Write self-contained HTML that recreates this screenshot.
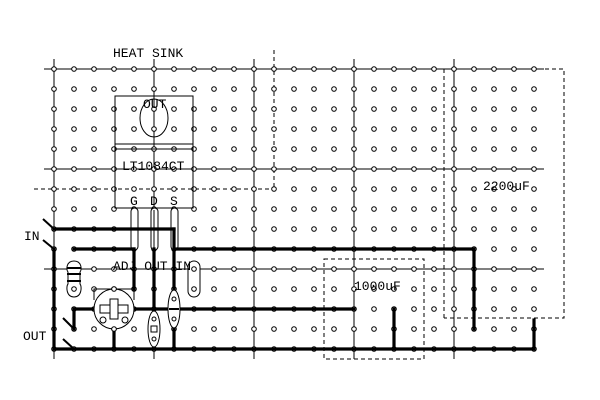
<!DOCTYPE html>
<html><head><meta charset="utf-8"><style>
html,body{margin:0;padding:0;background:#fff}
svg{display:block}
text{font-family:"Liberation Mono",monospace;font-size:13px;fill:#000}
</style></head><body>
<svg width="600" height="400" viewBox="0 0 600 400" xmlns="http://www.w3.org/2000/svg">
<defs>
<pattern id="h" x="44" y="59" width="20" height="20" patternUnits="userSpaceOnUse">
<circle cx="10" cy="10" r="2.3" fill="#fff" stroke="#000" stroke-width="1"/>
</pattern>
</defs>
<g stroke="#000" stroke-width="1" fill="none">
<line x1="44" y1="69" x2="544" y2="69"/>
<line x1="44" y1="169" x2="544" y2="169"/>
<line x1="44" y1="269" x2="544" y2="269"/>
<line x1="54" y1="59" x2="54" y2="359"/>
<line x1="154" y1="59" x2="154" y2="359"/>
<line x1="254" y1="59" x2="254" y2="359"/>
<line x1="354" y1="59" x2="354" y2="359"/>
<line x1="454" y1="59" x2="454" y2="359"/>
<g stroke-dasharray="4,3">
<line x1="34" y1="189" x2="274" y2="189"/>
<line x1="274" y1="50" x2="274" y2="189"/>
<polyline points="444,318 444,69 564,69 564,318 444,318"/>
<rect x="324" y="259" width="100" height="100"/>
</g>
</g>
<rect x="44" y="59" width="500" height="300" fill="url(#h)"/>
<!-- regulator -->
<g stroke="#000" stroke-width="1" fill="none">
<rect x="115" y="96" width="78" height="112" fill="none"/>
<line x1="115" y1="144" x2="193" y2="144"/>
<line x1="115" y1="149" x2="193" y2="149"/>
<ellipse cx="154" cy="118" rx="14" ry="19"/>
<rect x="131" y="208" width="7" height="42" rx="3.5" fill="#fff"/>
<rect x="151" y="208" width="7" height="42" rx="3.5" fill="#fff"/>
<rect x="171" y="208" width="7" height="42" rx="3.5" fill="#fff"/>
<line x1="154" y1="210" x2="154" y2="248"/>
</g>
<!-- strips -->
<g stroke="#000" stroke-width="3.2" fill="none" stroke-linecap="square">
<line x1="54" y1="229" x2="174" y2="229"/>
<line x1="74" y1="249" x2="134" y2="249"/>
<polyline points="174,249 474,249 474,329"/>
<line x1="74" y1="309" x2="354" y2="309"/>
<line x1="54" y1="349" x2="534" y2="349"/>
<line x1="534" y1="320" x2="534" y2="349"/>
<line x1="394" y1="309" x2="394" y2="349"/>
<line x1="54" y1="249" x2="54" y2="349"/>
<line x1="74" y1="309" x2="74" y2="329"/>
<line x1="114" y1="329" x2="114" y2="349"/>
<line x1="134" y1="249" x2="134" y2="289"/>
<line x1="154" y1="249" x2="154" y2="312"/>
<line x1="174" y1="229" x2="174" y2="290"/>
<line x1="174" y1="328" x2="174" y2="349"/>
</g>
<!-- switches -->
<g stroke="#000" stroke-width="2">
<line x1="43" y1="219" x2="54" y2="229"/>
<line x1="43" y1="240" x2="54" y2="249"/>
<line x1="63" y1="318" x2="74" y2="329"/>
<line x1="63" y1="339" x2="74" y2="349"/>
</g>
<!-- components -->
<g stroke="#000" stroke-width="1" fill="#fff">
<path d="M74,261 C66,261 66,270 68,272 L68,284 C66,286 66,297 74,297 C82,297 82,286 80,284 L80,272 C82,270 82,261 74,261 Z"/>
<line x1="67" y1="268" x2="81" y2="268" stroke-width="2"/>
<line x1="67" y1="274" x2="81" y2="274" stroke-width="2"/>
<line x1="67" y1="281" x2="81" y2="281" stroke-width="2"/>
<circle cx="74" cy="289" r="2.3"/>
<polyline points="94,300 94,289 134,289 134,300" fill="none"/>
<circle cx="114" cy="309" r="20"/>
<rect x="100" y="305" width="28" height="8"/>
<rect x="110" y="299" width="8" height="20"/>
<circle cx="103" cy="320" r="3"/>
<circle cx="125" cy="320" r="3"/>
<circle cx="114" cy="289" r="2.3"/>
<circle cx="114" cy="329" r="2.3"/>
<rect x="188" y="261" width="12" height="36" rx="6"/>
<circle cx="194" cy="269" r="2.3"/>
<circle cx="194" cy="289" r="2.3"/>
<ellipse cx="154" cy="329" rx="6" ry="18"/>
<circle cx="154" cy="319" r="2"/>
<circle cx="154" cy="339" r="2"/>
<rect x="151" y="326" width="6" height="6"/>
<ellipse cx="174" cy="309" rx="6" ry="19"/>
<circle cx="174" cy="299" r="2"/>
<circle cx="174" cy="319" r="2"/>
<line x1="169" y1="309" x2="179" y2="309" stroke-width="2"/>
</g>
<!-- labels -->
<text x="113" y="57">HEAT SINK</text>
<text x="143" y="108">OUT</text>
<text x="122" y="170">LT1084CT</text>
<text x="130" y="205">G</text>
<text x="150" y="205">D</text>
<text x="170" y="205">S</text>
<text x="113" y="270">ADJ OUT IN</text>
<text x="24" y="240">IN</text>
<text x="23" y="340">OUT</text>
<text x="354" y="290">1000uF</text>
<text x="483" y="190">2200uF</text>
</svg>
</body></html>
